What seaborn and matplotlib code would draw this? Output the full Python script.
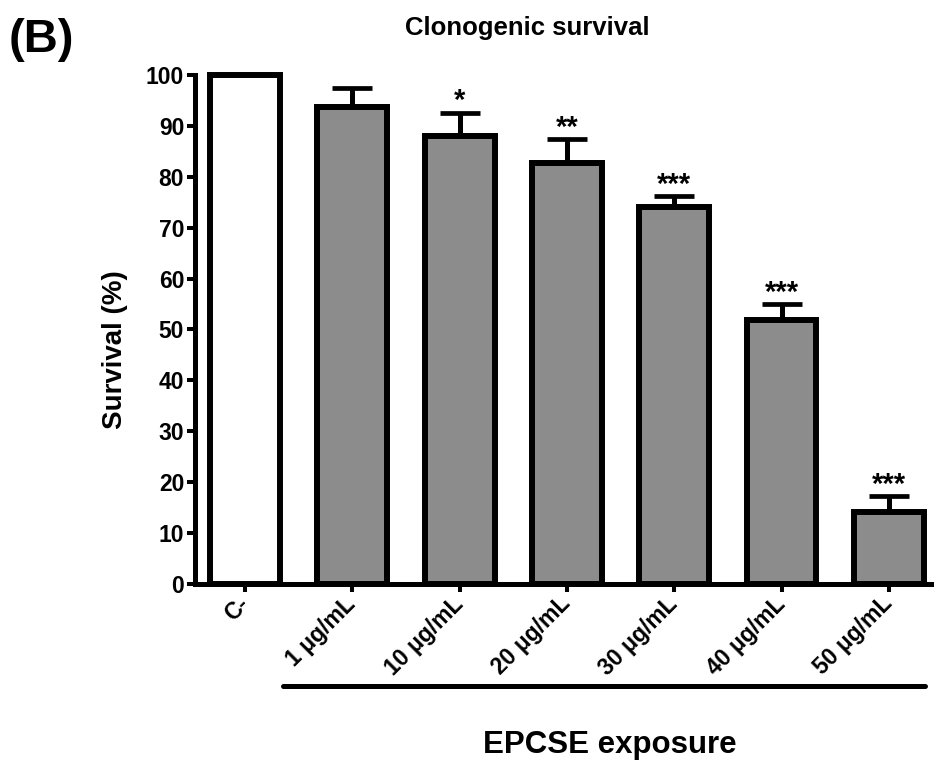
import numpy as np
import pandas as pd
import matplotlib
matplotlib.use("Agg")
import matplotlib.pyplot as plt
import seaborn as sns

# ---- data ----
categories = ["C-", "1 μg/mL", "10 μg/mL", "20 μg/mL", "30 μg/mL", "40 μg/mL", "50 μg/mL"]
survival = [100, 93.8, 88.1, 82.7, 74.1, 51.9, 14.1]
sem = [0, 3.6, 4.5, 4.7, 2.1, 3.1, 3.1]
significance = ["", "", "*", "**", "***", "***", "***"]
bar_colors = ["#ffffff", "#8c8c8c", "#8c8c8c", "#8c8c8c", "#8c8c8c", "#8c8c8c", "#8c8c8c"]
yticks = list(range(0, 101, 10))

sns.set_style("ticks")
plt.rcParams["font.family"] = ["Liberation Sans", "DejaVu Sans"]
plt.rcParams["font.weight"] = "bold"
plt.rcParams["text.color"] = "black"
plt.rcParams["axes.labelcolor"] = "black"
plt.rcParams["xtick.color"] = "black"
plt.rcParams["ytick.color"] = "black"
plt.rcParams["axes.edgecolor"] = "black"

fig = plt.figure(figsize=(9.34, 7.73), dpi=100)
ax = fig.add_axes([0.2088, 0.2445, 0.790, 0.6585])

df = pd.DataFrame({"group": categories, "survival": survival})
sns.barplot(data=df, x="group", y="survival", hue="group", palette=bar_colors,
            legend=False, width=0.65, edgecolor="black", linewidth=4.3,
            saturation=1, errorbar=None, ax=ax, zorder=3)
for p in ax.patches:
    p.set_clip_on(False)
    p.set_joinstyle("miter")

pos = np.arange(len(categories))
err_lo = np.zeros(len(categories) - 1)
ax.errorbar(pos[1:], survival[1:], yerr=[err_lo, sem[1:]], fmt="none",
            ecolor="black", elinewidth=3.6, capsize=14.2, capthick=3.4, zorder=2)

for i, s in enumerate(significance):
    if s:
        ax.annotate(s, xy=(pos[i], survival[i] + sem[i]), xytext=(0, 2.5),
                    textcoords="offset points", ha="center", va="baseline",
                    fontsize=21, fontweight="bold", color="black")

ax.set_ylim(0, 100)
ax.set_xlim(-0.466, 6.41)
ax.set_yticks(yticks)
ax.set_yticklabels([str(t) for t in yticks], fontsize=16.5, fontweight="bold")
ax.set_xticks(pos)
ax.set_xticklabels(categories, rotation=45, ha="right", va="center",
                   rotation_mode="anchor", fontsize=16.5, fontweight="bold")
ax.tick_params(axis="both", length=5.8, width=2.9, direction="out", pad=2)
ax.tick_params(axis="x", pad=6)

sns.despine(ax=ax)
for side in ["left", "bottom"]:
    ax.spines[side].set_linewidth(3.6)
    ax.spines[side].set_capstyle("projecting")

ax.set_xlabel("")
ax.set_ylabel("Survival (%)", fontsize=20, fontweight="bold")
ax.yaxis.set_label_coords(-0.091, 0.46)

# bracket under the exposure groups
ax.plot([pos[1] - 0.65, pos[-1] + 0.34], [-0.2, -0.2], color="black", lw=3.6,
        transform=ax.get_xaxis_transform(), clip_on=False, solid_capstyle="round")

fig.text(0.653, 0.036, "EPCSE exposure", fontsize=22.5, fontweight="bold",
         ha="center", va="center")
fig.text(0.565, 0.964, "Clonogenic survival", fontsize=18.5, fontweight="bold",
         ha="center", va="center")
fig.text(0.009, 0.948, "(B)", fontsize=34, fontweight="bold", ha="left", va="center")

fig.savefig("out.png", dpi=100)
